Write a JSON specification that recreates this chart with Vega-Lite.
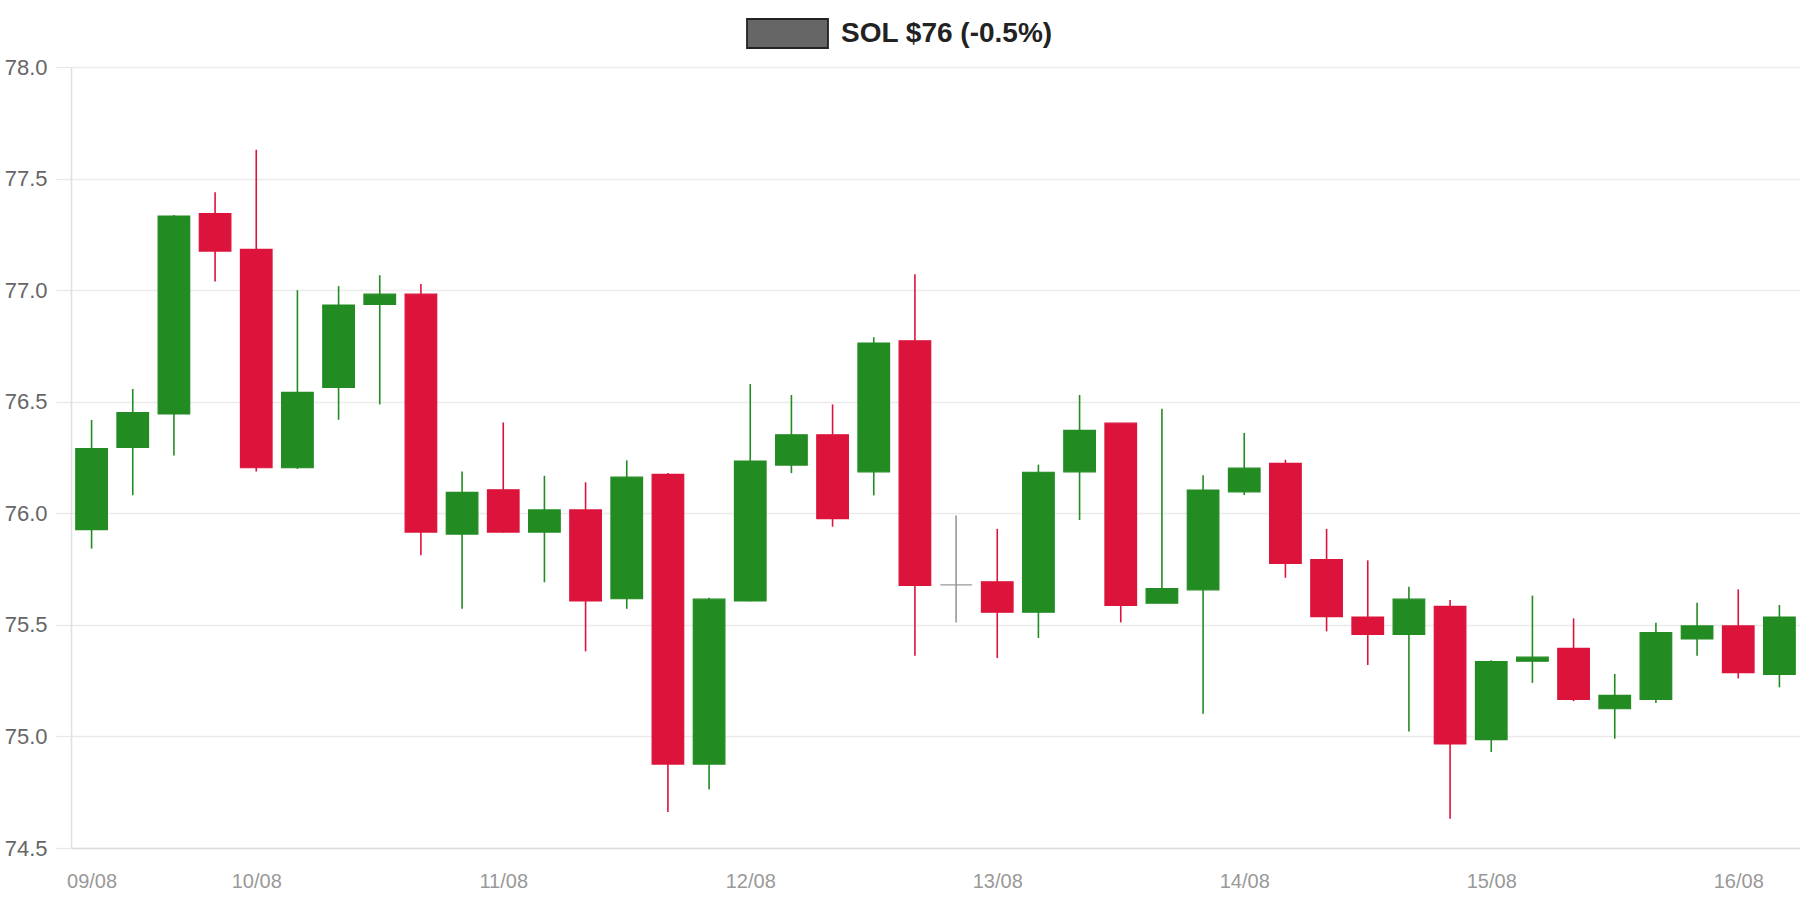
{
  "$schema": "https://vega.github.io/schema/vega-lite/v6.json",
  "autosize": {"type": "none"},
  "padding": {"left": 71, "top": 67, "right": 0, "bottom": 52},
  "width": 1729,
  "height": 781,
  "background": "white",
  "data": {
    "values": [
      {"time": "2024-08-09T08:00:00", "open": 75.927, "high": 76.418, "low": 75.842, "close": 76.290},
      {"time": "2024-08-09T12:00:00", "open": 76.295, "high": 76.557, "low": 76.081, "close": 76.451},
      {"time": "2024-08-09T16:00:00", "open": 76.445, "high": 77.337, "low": 76.259, "close": 77.332},
      {"time": "2024-08-09T20:00:00", "open": 77.343, "high": 77.439, "low": 77.039, "close": 77.175},
      {"time": "2024-08-10T00:00:00", "open": 77.183, "high": 77.629, "low": 76.187, "close": 76.204},
      {"time": "2024-08-10T04:00:00", "open": 76.204, "high": 77.000, "low": 76.199, "close": 76.542},
      {"time": "2024-08-10T08:00:00", "open": 76.564, "high": 77.018, "low": 76.419, "close": 76.933},
      {"time": "2024-08-10T12:00:00", "open": 76.936, "high": 77.067, "low": 76.488, "close": 76.982},
      {"time": "2024-08-10T16:00:00", "open": 76.982, "high": 77.028, "low": 75.812, "close": 75.916},
      {"time": "2024-08-10T20:00:00", "open": 75.907, "high": 76.187, "low": 75.572, "close": 76.094},
      {"time": "2024-08-11T00:00:00", "open": 76.105, "high": 76.407, "low": 75.914, "close": 75.916},
      {"time": "2024-08-11T04:00:00", "open": 75.916, "high": 76.168, "low": 75.691, "close": 76.015},
      {"time": "2024-08-11T08:00:00", "open": 76.015, "high": 76.139, "low": 75.381, "close": 75.607},
      {"time": "2024-08-11T12:00:00", "open": 75.617, "high": 76.237, "low": 75.572, "close": 76.162},
      {"time": "2024-08-11T16:00:00", "open": 76.174, "high": 76.180, "low": 74.661, "close": 74.876},
      {"time": "2024-08-11T20:00:00", "open": 74.876, "high": 75.621, "low": 74.762, "close": 75.615},
      {"time": "2024-08-12T00:00:00", "open": 75.607, "high": 76.579, "low": 75.605, "close": 76.234},
      {"time": "2024-08-12T04:00:00", "open": 76.216, "high": 76.530, "low": 76.180, "close": 76.352},
      {"time": "2024-08-12T08:00:00", "open": 76.352, "high": 76.488, "low": 75.940, "close": 75.976},
      {"time": "2024-08-12T12:00:00", "open": 76.186, "high": 76.789, "low": 76.080, "close": 76.763},
      {"time": "2024-08-12T16:00:00", "open": 76.773, "high": 77.071, "low": 75.361, "close": 75.677},
      {"time": "2024-08-12T20:00:00", "open": 75.679, "high": 75.990, "low": 75.511, "close": 75.679},
      {"time": "2024-08-13T00:00:00", "open": 75.693, "high": 75.930, "low": 75.351, "close": 75.557},
      {"time": "2024-08-13T04:00:00", "open": 75.557, "high": 76.218, "low": 75.441, "close": 76.184},
      {"time": "2024-08-13T08:00:00", "open": 76.186, "high": 76.530, "low": 75.970, "close": 76.372},
      {"time": "2024-08-13T12:00:00", "open": 76.404, "high": 76.404, "low": 75.511, "close": 75.587},
      {"time": "2024-08-13T16:00:00", "open": 75.597, "high": 76.468, "low": 75.597, "close": 75.663},
      {"time": "2024-08-13T20:00:00", "open": 75.657, "high": 76.170, "low": 75.102, "close": 76.104},
      {"time": "2024-08-14T00:00:00", "open": 76.096, "high": 76.360, "low": 76.082, "close": 76.202},
      {"time": "2024-08-14T04:00:00", "open": 76.224, "high": 76.240, "low": 75.711, "close": 75.775},
      {"time": "2024-08-14T08:00:00", "open": 75.793, "high": 75.930, "low": 75.471, "close": 75.537},
      {"time": "2024-08-14T12:00:00", "open": 75.535, "high": 75.789, "low": 75.320, "close": 75.457},
      {"time": "2024-08-14T16:00:00", "open": 75.457, "high": 75.671, "low": 75.022, "close": 75.615},
      {"time": "2024-08-14T20:00:00", "open": 75.583, "high": 75.611, "low": 74.631, "close": 74.966},
      {"time": "2024-08-15T00:00:00", "open": 74.986, "high": 75.341, "low": 74.930, "close": 75.335},
      {"time": "2024-08-15T04:00:00", "open": 75.337, "high": 75.631, "low": 75.240, "close": 75.355},
      {"time": "2024-08-15T08:00:00", "open": 75.395, "high": 75.529, "low": 75.158, "close": 75.166},
      {"time": "2024-08-15T12:00:00", "open": 75.124, "high": 75.280, "low": 74.990, "close": 75.184},
      {"time": "2024-08-15T16:00:00", "open": 75.166, "high": 75.509, "low": 75.150, "close": 75.465},
      {"time": "2024-08-15T20:00:00", "open": 75.437, "high": 75.599, "low": 75.361, "close": 75.495},
      {"time": "2024-08-16T00:00:00", "open": 75.495, "high": 75.659, "low": 75.260, "close": 75.286},
      {"time": "2024-08-16T04:00:00", "open": 75.278, "high": 75.589, "low": 75.220, "close": 75.535}
    ]
  },
  "encoding": {
    "x": {
      "field": "time",
      "type": "temporal",
      "scale": {
        "domain": [
          {"year": 2024, "month": 8, "date": 9, "hours": 6},
          {"year": 2024, "month": 8, "date": 16, "hours": 6}
        ],
        "nice": false,
        "padding": 0
      },
      "axis": {
        "title": null,
        "values": [
          {"year": 2024, "month": 8, "date": 9, "hours": 8},
          {"year": 2024, "month": 8, "date": 10},
          {"year": 2024, "month": 8, "date": 11},
          {"year": 2024, "month": 8, "date": 12},
          {"year": 2024, "month": 8, "date": 13},
          {"year": 2024, "month": 8, "date": 14},
          {"year": 2024, "month": 8, "date": 15},
          {"year": 2024, "month": 8, "date": 16}
        ],
        "format": "%d/%m",
        "labelFont": "Liberation Sans",
        "labelFontSize": 20,
        "labelColor": "#999999",
        "labelPadding": 23,
        "labelFlush": false,
        "labelOverlap": false,
        "ticks": false,
        "grid": false,
        "domainColor": "#dddddd",
        "domainWidth": 1.3
      }
    }
  },
  "layer": [
    {
      "mark": {"type": "rule", "strokeWidth": 1.6},
      "encoding": {
        "y": {
          "field": "low",
          "type": "quantitative",
          "scale": {"domain": [74.5, 78], "nice": false, "zero": false},
          "axis": {
            "title": null,
            "values": [74.5, 75, 75.5, 76, 76.5, 77, 77.5, 78],
            "format": ".1f",
            "labelFont": "Liberation Sans",
            "labelFontSize": 22,
            "labelColor": "#666666",
            "labelPadding": 8,
            "tickSize": 16,
            "tickColor": "#e8e8e8",
            "tickWidth": 1.3,
            "gridColor": "#ebebeb",
            "gridWidth": 1.3,
            "domainColor": "#e0e0e0",
            "domainWidth": 1.5
          }
        },
        "y2": {"field": "high"},
        "color": {
          "condition": [
            {"test": "datum.close > datum.open", "value": "#228B22"},
            {"test": "datum.close < datum.open", "value": "#DC143C"}
          ],
          "value": "#999999"
        }
      }
    },
    {
      "mark": {"type": "bar", "width": 31.6, "strokeWidth": 1.2},
      "encoding": {
        "y": {"field": "open", "type": "quantitative"},
        "y2": {"field": "close"},
        "color": {
          "condition": [
            {"test": "datum.close > datum.open", "value": "#228B22"},
            {"test": "datum.close < datum.open", "value": "#DC143C"}
          ],
          "value": "#999999"
        },
        "stroke": {
          "condition": [
            {"test": "datum.close > datum.open", "value": "#228B22"},
            {"test": "datum.close < datum.open", "value": "#DC143C"}
          ],
          "value": "#999999"
        }
      }
    },
    {
      "mark": {"type": "square", "opacity": 0, "filled": true},
      "encoding": {
        "y": {"field": "close", "type": "quantitative"},
        "color": {
          "datum": "SOL $76 (-0.5%)",
          "scale": {"range": ["#666666"]},
          "legend": {
            "title": null,
            "orient": "none",
            "legendX": 675,
            "legendY": -75,
            "symbolType": "M-1,-0.358H1V0.358H-1Z",
            "symbolSize": 6561,
            "labelFont": "Liberation Sans",
            "labelFontSize": 28,
            "labelFontWeight": "bold",
            "labelColor": "#222222",
            "labelOffset": 12,
            "labelLimit": 0,
            "encode": {
              "symbols": {
                "update": {
                  "fill": {"value": "#666666"},
                  "stroke": {"value": "#222222"},
                  "strokeWidth": {"value": 1.8},
                  "opacity": {"value": 1}
                }
              }
            }
          }
        }
      }
    }
  ],
  "config": {
    "view": {"stroke": null}
  }
}
